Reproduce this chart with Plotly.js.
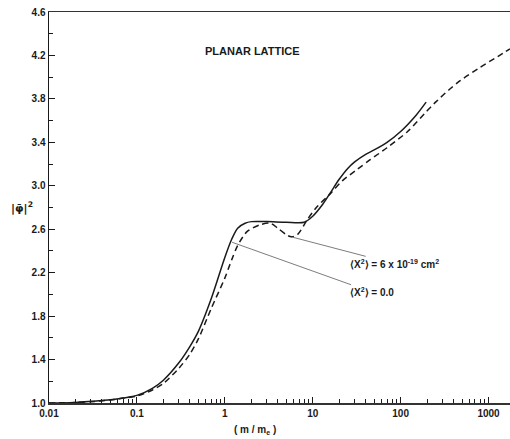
<!DOCTYPE html>
<html>
<head>
<meta charset="utf-8">
<script src="https://cdn.plot.ly/plotly-3.0.1.min.js"></script>
<style>html,body{margin:0;padding:0;background:#fff;}#chart{width:510px;height:439px;}</style>
</head>
<body>
<div id="chart"></div>
<script>
// Solid curve: <X^2> = 0.0
const solidX = [0.01, 0.02, 0.03, 0.05, 0.07, 0.1, 0.15, 0.2, 0.3, 0.4, 0.5, 0.7, 1.0, 1.2, 1.4, 1.7, 2.0, 3.0, 5.0, 8.0, 10, 13, 16, 20, 25, 30, 40, 50, 70, 100, 150, 195];
const solidY = [1.0, 1.005, 1.015, 1.03, 1.046, 1.07, 1.135, 1.21, 1.37, 1.52, 1.66, 1.96, 2.34, 2.51, 2.61, 2.655, 2.67, 2.67, 2.665, 2.665, 2.72, 2.83, 2.94, 3.06, 3.16, 3.22, 3.29, 3.33, 3.40, 3.50, 3.65, 3.77];
// Dashed curve: <X^2> = 6e-19 cm^2
const dashX = [0.01, 0.02, 0.03, 0.05, 0.07, 0.1, 0.15, 0.2, 0.3, 0.4, 0.5, 0.7, 1.0, 1.2, 1.4, 1.8, 2.5, 3.3, 4.0, 5.0, 5.7, 6.7, 8.7, 11, 16, 22, 32, 45, 70, 120, 200, 250, 350, 480, 800, 1270, 1754];
const dashY = [1.0, 1.005, 1.012, 1.028, 1.045, 1.065, 1.12, 1.18, 1.32, 1.45, 1.59, 1.87, 2.15, 2.32, 2.45, 2.58, 2.64, 2.655, 2.61, 2.55, 2.53, 2.55, 2.69, 2.80, 2.93, 3.05, 3.15, 3.24, 3.35, 3.50, 3.69, 3.77, 3.88, 3.97, 4.09, 4.19, 4.26];
// Axis ticks
const yTickVals = [1.0, 1.4, 1.8, 2.2, 2.6, 3.0, 3.4, 3.8, 4.2, 4.6];
const yTickText = ["1.0", "1.4", "1.8", "2.2", "2.6", "3.0", "3.4", "3.8", "4.2", "4.6"];
const yMinorVals = [1.2, 1.6, 2.0, 2.4, 2.8, 3.2, 3.6, 4.0, 4.4];
const xTickVals = [0.01, 0.1, 1, 10, 100, 1000];
const xTickText = ["0.01", "0.1", "1", "10", "100", "1000"];
const xMinorVals = [];
[0.01, 0.1, 1, 10, 100, 1000].forEach(d => { for (let k = 2; k <= 9; k++) xMinorVals.push(d * k); });
// Annotation anchor points (data values)
const lbl1Point = [5.7, 2.53];
const lbl2Point = [1.21, 2.48];

const ink = '#1a1a1a';
const fam = 'Liberation Sans, Arial, sans-serif';

const traces = [
  {x: solidX, y: solidY, type: 'scatter', mode: 'lines',
   line: {color: ink, width: 1.5, shape: 'spline', smoothing: 0.8}, hoverinfo: 'skip'},
  {x: dashX, y: dashY, type: 'scatter', mode: 'lines',
   line: {color: ink, width: 1.5, dash: '6px,4px', shape: 'spline', smoothing: 0.8}, hoverinfo: 'skip'}
];

const layout = {
  width: 510, height: 439,
  margin: {l: 49, r: 0, t: 12, b: 36},
  paper_bgcolor: '#fff', plot_bgcolor: '#fff',
  showlegend: false,
  font: {family: fam, size: 10, color: ink},
  xaxis: {
    type: 'log', range: [-2, 3.244],
    tickvals: xTickVals, ticktext: xTickText,
    ticks: 'inside', ticklen: 6, tickwidth: 1, tickcolor: ink,
    minor: {tickvals: xMinorVals, ticks: 'inside', ticklen: 4, tickwidth: 1, tickcolor: ink, showgrid: false},
    showgrid: false, zeroline: false,
    showline: true, linecolor: '#333', linewidth: 1.5, mirror: true,
    tickfont: {family: fam, size: 10, color: ink, weight: 'bold'}
  },
  yaxis: {
    range: [1.0, 4.6],
    tickvals: yTickVals, ticktext: yTickText,
    ticks: 'inside', ticklen: 6, tickwidth: 1, tickcolor: ink,
    minor: {tickvals: yMinorVals, ticks: 'inside', ticklen: 4, tickwidth: 1, tickcolor: ink, showgrid: false},
    showgrid: false, zeroline: false,
    showline: true, linecolor: ink, linewidth: 1.5,
    tickfont: {family: fam, size: 10, color: ink, weight: 'bold'}
  },
  annotations: [
    {xref: 'paper', yref: 'paper', x: 0.442, y: 0.92, text: '<b>PLANAR LATTICE</b>',
     showarrow: false, font: {family: fam, size: 11, color: ink}},
    {xref: 'paper', yref: 'paper', x: -0.087, xanchor: 'left', y: 0.50, text: '<b>|φ̄|<sup>2</sup></b>',
     showarrow: false, font: {family: 'DejaVu Sans, sans-serif', size: 11, color: ink}},
    {xref: 'paper', yref: 'paper', x: 0.447, y: -0.069, yanchor: 'middle',
     text: '<b>( m / m<sub>e</sub> )</b>', showarrow: false, font: {family: fam, size: 10, color: ink}},
    {x: Math.log10(lbl1Point[0]), y: lbl1Point[1], xref: 'x', yref: 'y',
     text: '<b>⟨X<sup>2</sup>⟩ = 6 x 10<sup>-19</sup> cm<sup>2</sup></b>',
     showarrow: true, arrowhead: 0, arrowwidth: 0.7, arrowcolor: '#444', ax: 103, ay: 27, standoff: 0,
     font: {family: fam, size: 10, color: ink}},
    {x: Math.log10(lbl2Point[0]), y: lbl2Point[1], xref: 'x', yref: 'y',
     text: '<b>⟨X<sup>2</sup>⟩ = 0.0</b>',
     showarrow: true, arrowhead: 0, arrowwidth: 0.7, arrowcolor: '#444', ax: 140, ay: 50, standoff: 0,
     font: {family: fam, size: 10, color: ink}}
  ]
};

Plotly.newPlot('chart', traces, layout, {staticPlot: true, displayModeBar: false});
</script>
</body>
</html>
